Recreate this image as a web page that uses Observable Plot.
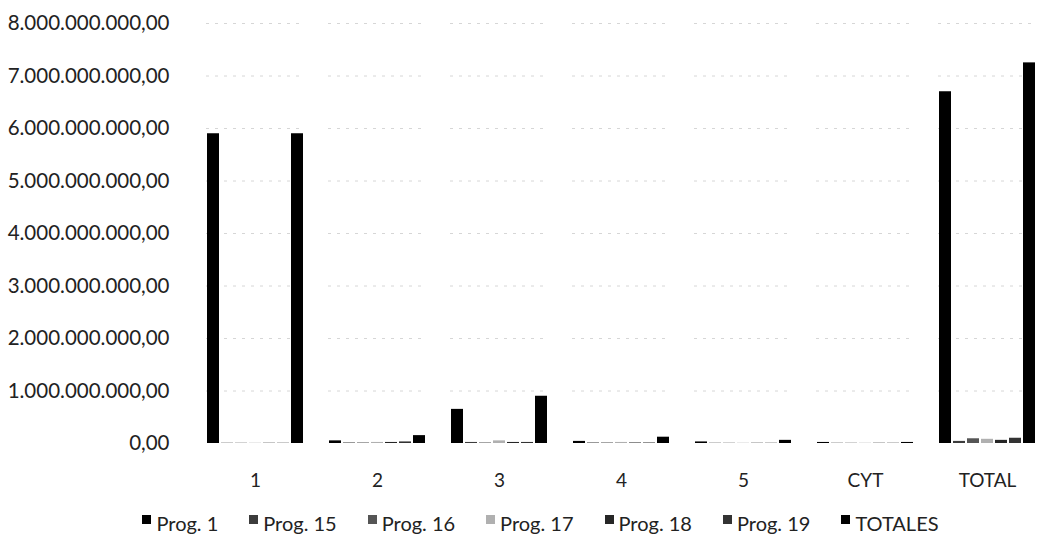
<!DOCTYPE html>
<html><head><meta charset="utf-8">
<script src="https://cdn.jsdelivr.net/npm/d3@7"></script>
<script src="https://cdn.jsdelivr.net/npm/@observablehq/plot@0.6"></script>
<style>
body{margin:0;background:#fff;font-family:Lato,"Open Sans",sans-serif;overflow:hidden;}
#chart svg{display:block;}
#legend{display:flex;justify-content:center;align-items:center;gap:31px;height:45px;font-size:20px;color:#222;padding-left:42px;}
#legend .it{display:flex;align-items:center;gap:5px;}
#legend .sw{width:9px;height:9px;display:inline-block;margin-top:-6px;}
</style></head><body>
<div id="chart"></div>
<div id="legend"></div>
<script>
const categories = ["1","2","3","4","5","CYT","TOTAL"];
const seriesNames = ["Prog. 1","Prog. 15","Prog. 16","Prog. 17","Prog. 18","Prog. 19","TOTALES"];
const seriesColors = ["#000000","#3c3c3c","#555555","#b0b0b0","#262626","#333333","#000000"];
const prog1   = [5.90e9, 0.05e9, 0.65e9, 0.04e9, 0.03e9, 0.02e9, 6.70e9];
const prog15  = [0.005e9, 0.01e9, 0.02e9, 0.01e9, 0.005e9, 0.005e9, 0.04e9];
const prog16  = [0.005e9, 0.01e9, 0.01e9, 0.01e9, 0.005e9, 0.005e9, 0.09e9];
const prog17  = [0.005e9, 0.02e9, 0.05e9, 0.02e9, 0.005e9, 0.005e9, 0.08e9];
const prog18  = [0.005e9, 0.02e9, 0.02e9, 0.01e9, 0.005e9, 0.005e9, 0.06e9];
const prog19  = [0.005e9, 0.03e9, 0.02e9, 0.01e9, 0.005e9, 0.005e9, 0.10e9];
const totales = [5.90e9, 0.15e9, 0.90e9, 0.12e9, 0.06e9, 0.02e9, 7.25e9];
const yTicks = [0,1e9,2e9,3e9,4e9,5e9,6e9,7e9,8e9];

const allSeries = [prog1, prog15, prog16, prog17, prog18, prog19, totales];
const data = [];
categories.forEach((c, i) => {
  seriesNames.forEach((s, j) => data.push({cat: c, series: s, value: allSeries[j][i]}));
});

const loc = d3.formatLocale({decimal: ",", thousands: ".", grouping: [3], currency: ["", ""]});
const fmt = loc.format(",.2f");

const chart = Plot.plot({
  width: 1039,
  height: 500,
  marginTop: 23,
  marginBottom: 57,
  marginLeft: 191,
  marginRight: -11,
  style: {fontFamily: "Lato, 'Open Sans', sans-serif", fontSize: "20px", color: "#222", background: "#fff", overflow: "visible"},
  fx: {domain: categories, paddingInner: 0.2, paddingOuter: 0.1, label: null},
  x: {domain: seriesNames, paddingInner: 0.15, paddingOuter: 0.05, axis: null},
  y: {domain: [0, 8e9], axis: null},
  color: {domain: seriesNames, range: seriesColors},
  marks: [
    Plot.gridY(yTicks.slice(1), {stroke: "#bbb", strokeOpacity: 0.6, strokeDasharray: "3,6"}),
    Plot.axisY({ticks: yTicks, tickFormat: fmt, tickSize: 0, tickPadding: 37, label: null, fontSize: "20.5px"}),
    Plot.axisFx({anchor: "bottom", tickSize: 0, tickPadding: 30, label: null, fontSize: "19px"}),
    Plot.barY(data, {fx: "cat", x: "series", y: "value", fill: "series"})
  ]
});
document.getElementById("chart").appendChild(chart);

const leg = document.getElementById("legend");
seriesNames.forEach((s, j) => {
  const it = document.createElement("div"); it.className = "it";
  const sw = document.createElement("span"); sw.className = "sw"; sw.style.background = seriesColors[j];
  const t = document.createElement("span"); t.textContent = s;
  it.appendChild(sw); it.appendChild(t); leg.appendChild(it);
});
</script>
</body></html>
